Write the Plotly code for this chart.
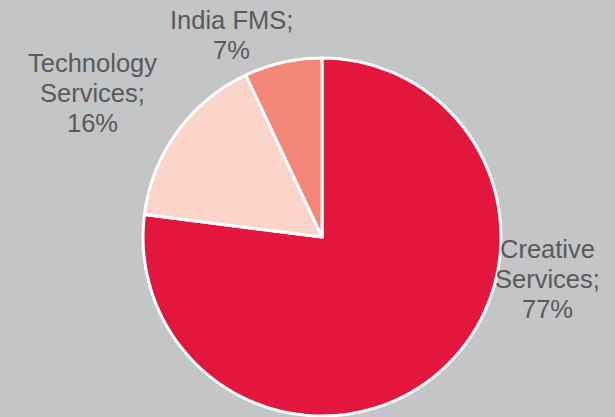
import plotly.graph_objects as go

categories = ["Creative Services", "Technology Services", "India FMS"]
values = [77, 16, 7]
colors = ["#E3173E", "#FBD5CA", "#F4877A"]

W, H = 615, 417
BG = "#C4C5C7"

fig = go.Figure(go.Pie(
    labels=categories,
    values=values,
    sort=False,
    direction="clockwise",
    rotation=0,
    marker=dict(colors=colors, line=dict(color="white", width=3)),
    textinfo="none",
    hoverinfo="label+percent",
    showlegend=False,
    domain=dict(x=[143 / W, 501 / W], y=[1 / H, 359 / H]),
))

def wrap(label, val):
    words = label.split(" ")
    if len(words) == 2 and words[0] != "India":
        lines = [words[0], words[1] + ";"]
    else:
        lines = [label + ";"]
    return lines + [f"{val}%"]

# label anchor (center x, first line center y) in pixels
anchors = {"Creative Services": (547.5, 249),
           "Technology Services": (92, 63),
           "India FMS": (231.5, 19.5)}
spacing = 30

for cat, val in zip(categories, values):
    cx, cy = anchors[cat]
    for i, line in enumerate(wrap(cat, val)):
        fig.add_annotation(
            x=cx / W, y=1 - (cy + i * spacing) / H,
            xref="paper", yref="paper",
            text=line, showarrow=False,
            xanchor="center", yanchor="middle",
            font=dict(family="Liberation Sans, Arial", size=25.5, color="#595959"),
        )

fig.update_layout(
    width=W, height=H,
    margin=dict(l=0, r=0, t=0, b=0),
    paper_bgcolor=BG, plot_bgcolor=BG,
)

fig.write_html("out.html",
               config={"displayModeBar": False},
               post_script="document.body.style.margin='0';document.body.style.background='%s';" % BG)
